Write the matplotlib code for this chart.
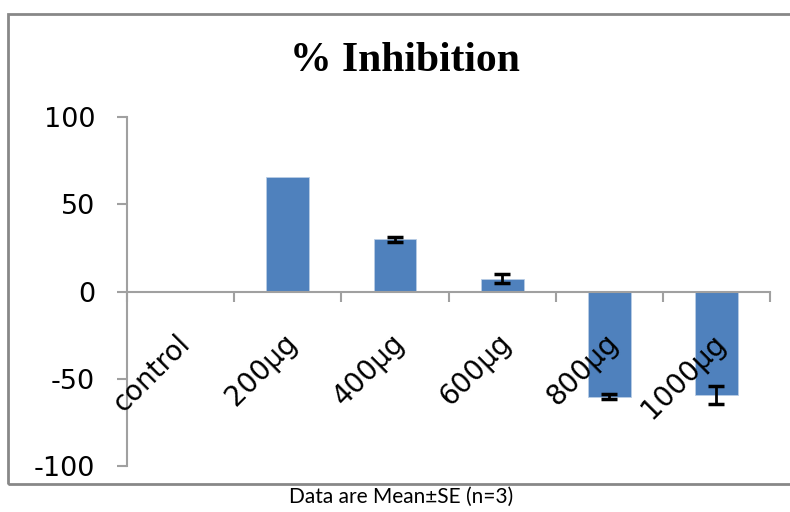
import matplotlib
matplotlib.use("Agg")
from matplotlib import pyplot as plt
from matplotlib.patches import Rectangle
from matplotlib.transforms import ScaledTranslation

categories = ["control", "200µg", "400µg", "600µg", "800µg", "1000µg"]
inhibition = [0, 65.5, 30, 7.3, -60.2, -59.2]
se = [0, 0, 1.5, 2.5, 1.5, 5]

plt.rcParams['font.family'] = ['DejaVu Sans']
plt.rcParams['axes.unicode_minus'] = False

fig = plt.figure(figsize=(7.9, 5.12), dpi=100)
ax = fig.add_axes([0.1608, 0.0898, 0.8139, 0.6817])
ax.set_axisbelow(False)

x = list(range(len(categories)))
ax.bar(x, inhibition, width=0.4, color='#4f81bd', edgecolor='#b9cde5', linewidth=0.6, zorder=1)
# only the doses with a visible SE get error bars
ex = [i for i in x if se[i] > 0]
ax.errorbar(ex, [inhibition[i] for i in ex], yerr=[se[i] for i in ex], fmt='none',
            ecolor='black', elinewidth=2, capsize=6, capthick=2.5, zorder=1.2)

ax.set_xlim(-0.5, len(categories) - 0.5)
ax.set_ylim(-100, 100)
ax.set_yticks([-100, -50, 0, 50, 100])

# category axis crosses at zero, ticks between categories
ax.spines['bottom'].set_position(('data', 0))
for s in ['top', 'right']:
    ax.spines[s].set_visible(False)
for s in ['bottom', 'left']:
    ax.spines[s].set_color('#a0a0a0')
    ax.spines[s].set_linewidth(1.5)

ax.set_xticks([i + 0.5 for i in range(-1, len(categories))])
ax.set_xticklabels([])
ax.tick_params(axis='x', which='major', direction='out', length=7, width=1.5, color='#a0a0a0')
ax.set_xticks(x, minor=True)
ax.set_xticklabels(categories, minor=True)
ax.tick_params(axis='x', which='minor', length=0, pad=27, labelsize=20)
shift = ScaledTranslation(-5 / 100, 0, fig.dpi_scale_trans)
for lab in ax.get_xticklabels(minor=True):
    lab.set_rotation(45)
    lab.set_ha('right')
    lab.set_va('top')
    lab.set_rotation_mode('anchor')
    lab.set_transform(lab.get_transform() + shift)

ax.tick_params(axis='y', direction='out', length=7, width=1.5, color='#a0a0a0',
               pad=16, labelsize=19.5)

fig.text(0.513, 0.88, "% Inhibition", ha='center', va='center',
         fontsize=30, fontweight='bold', family='Liberation Serif')
fig.text(0.508, 0.029, "Data are Mean±SE (n=3)", ha='center', va='center',
         fontsize=15, family='Lato')

fig.add_artist(Rectangle((0.0101, 0.0547), 1.0, 0.918, transform=fig.transFigure,
                         fill=False, edgecolor='#888888', linewidth=2))

fig.savefig("out.png", dpi=100)
